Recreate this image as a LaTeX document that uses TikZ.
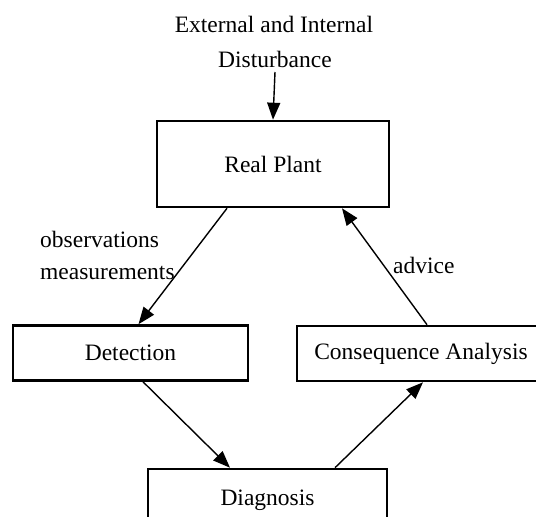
\documentclass[tikz,border=0pt]{standalone}
\usepackage{fontspec}
\setmainfont{Liberation Serif}
\usetikzlibrary{arrows.meta}
\begin{document}
\begin{tikzpicture}[x=1pt,y=-1pt,
  box/.style={draw,line width=2.6pt,inner sep=0pt,font=\fontsize{23.5}{28}\selectfont},
  lbl/.style={inner sep=0pt,font=\fontsize{23.5}{28}\selectfont},
  conn/.style={line width=1.4pt,-{Triangle[length=17pt,width=13pt]}}]
\clip (0,0) rectangle (536,517);
\node[lbl,anchor=base] (t1) at (274,32) {External and Internal};
\node[lbl,anchor=base] (t2) at (275,67) {Disturbance};
\node[box,minimum width=232pt,minimum height=86pt] (plant) at (273,164) {Real Plant};
\node[box,minimum width=235pt,minimum height=55pt] (det) at (130.5,353) {Detection};
\node[box,minimum width=248pt,minimum height=55pt] (cons) at (421,353.5) {Consequence Analysis};
\node[box,minimum width=239pt,minimum height=58pt,text depth=0pt] (diag) at (267.5,498) {};
\node[lbl,anchor=base] (diagt) at (267.5,505) {Diagnosis};
\node[lbl,anchor=base west] (obs) at (40,247) {observations};
\node[lbl,anchor=base west] (meas) at (40,279) {measurements};
\node[lbl,anchor=base west] (adv) at (393,273) {advice};
\draw[conn] ([yshift=-5pt]t2.base) -- (plant.north);
\draw[conn] ([xshift=-46pt]plant.south) -- ([xshift=8pt]det.north);
\draw[conn] ([xshift=6pt]cons.north) -- ([xshift=69pt]plant.south);
\draw[conn] ([xshift=12.5pt]det.south) -- ([xshift=-37.5pt]diag.north);
\draw[conn] ([xshift=67.5pt]diag.north) -- ([xshift=2pt]cons.south);
\end{tikzpicture}
\end{document}
